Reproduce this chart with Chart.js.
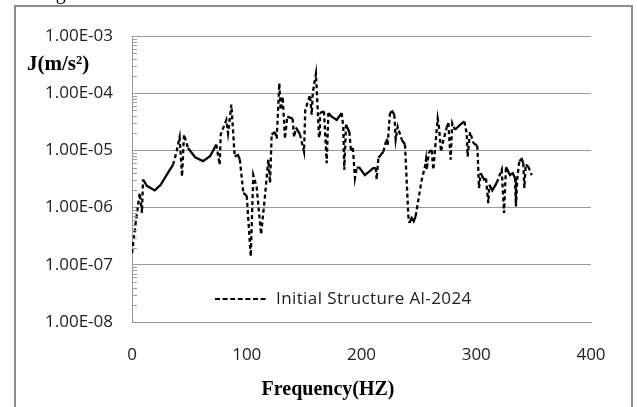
<!DOCTYPE html>
<html>
<head>
<meta charset="utf-8">
<script src="https://cdn.jsdelivr.net/npm/chart.js@4/dist/chart.umd.min.js"></script>
<style>
  html, body { margin: 0; padding: 0; background: #fff; }
  #wrap { width: 637px; height: 407px; }
</style>
</head>
<body>
<div id="wrap"><canvas id="chart1" width="637" height="407"></canvas></div>
<script>
// frequency in Hz
var freq = [
  0, 3, 6.7, 8.7, 9.6, 13, 19.8, 25, 31.4, 35.7, 38.5, 41.5, 43.6, 45.3, 48.8, 55, 61.9, 68, 73.5, 76.4,
  77.3, 82.2, 83.7, 86.6, 89.5, 92.4, 94, 97, 100, 103.5, 105.7, 108.6, 112.5, 115.9, 118.8, 120.3, 121.7, 124.6, 126.1, 128.4,
  129.6, 131.3, 133.3, 135.3, 140, 141.2, 142.9, 146.4, 149.9, 151, 155.1, 156.6, 157.5, 160.3, 163, 163.8, 167.3, 169.7, 171.1, 174,
  178.4, 182.7, 184.1, 185, 186.5, 189.4, 190.8, 192.5, 194.3, 195.8, 198.1, 203, 210.3, 212.5, 213.2, 214.7, 219, 222, 222.8, 224.8,
  226.9, 228.6, 229.8, 231.5, 235, 237.9, 240.8, 241.7, 243.7, 245.5, 247.2, 252.5, 255.3, 256.2, 256.8, 258.8, 261.2, 262.6, 264, 266.4,
  267.5, 269.3, 270.4, 274.2, 275.7, 277.7, 279.1, 281.5, 285.8, 289.6, 291.7, 292.5, 294.6, 297.4, 300.9, 301.8, 302.4, 303.9, 306.8, 308.5,
  310.5, 311.4, 314, 317.8, 322.2, 324.2, 325.9, 329.4, 331.8, 333.8, 334.6, 335.8, 337.5, 339.6, 341, 341.9, 343.1, 345.4, 348.3
];
// acceleration J (m/s^2)
var accel = [
  1.6e-7, 5.0e-7, 1.8e-6, 8.1e-7, 3.1e-6, 2.4e-6, 2.0e-6, 2.5e-6, 4.1e-6, 5.6e-6, 8.9e-6, 1.7e-5, 3.5e-6, 1.9e-5, 1.1e-5, 7.6e-6, 6.5e-6, 7.9e-6, 1.26e-5, 5.6e-6,
  1.9e-5, 3.4e-5, 2.0e-5, 6.3e-5, 7.8e-6, 8.3e-6, 6.9e-6, 1.8e-6, 1.6e-6, 1.4e-7, 3.7e-6, 2.3e-6, 3.4e-7, 1.6e-6, 6.9e-6, 2.7e-6, 1.9e-5, 2.1e-5, 1.6e-5, 1.5e-4,
  5.1e-5, 8.7e-5, 1.6e-5, 3.9e-5, 3.6e-5, 1.7e-5, 2.5e-5, 1.9e-5, 9.5e-6, 5.1e-5, 9.3e-5, 4.2e-5, 1.0e-4, 2.2e-4, 1.7e-5, 4.5e-5, 4.8e-5, 6.0e-6, 4.5e-5, 3.9e-5,
  3.4e-5, 4.5e-5, 2.6e-5, 4.6e-6, 2.8e-5, 2.1e-5, 1.0e-5, 1.1e-5, 3.3e-6, 5.0e-6, 5.0e-6, 3.7e-6, 4.9e-6, 4.9e-6, 3.1e-6, 7.4e-6, 9.5e-6, 1.6e-5, 1.26e-5, 4.5e-5,
  4.8e-5, 4.2e-5, 1.55e-5, 2.6e-5, 1.55e-5, 1.26e-5, 7.1e-7, 5.4e-7, 6.6e-7, 5.8e-7, 7.1e-7, 3.1e-6, 5.2e-6, 6.9e-6, 4.6e-6, 9.5e-6, 1.0e-5, 4.6e-6, 1.0e-5, 3.6e-5,
  2.6e-5, 9.5e-6, 1.26e-5, 2.5e-5, 3.0e-5, 6.9e-6, 3.0e-5, 2.3e-5, 2.8e-5, 3.2e-5, 2.0e-5, 7.8e-6, 2.1e-5, 1.35e-5, 1.2e-5, 4.6e-6, 2.2e-6, 4.0e-6, 3.1e-6, 3.2e-6,
  1.2e-6, 2.5e-6, 2.0e-6, 2.7e-6, 4.6e-6, 8.1e-7, 5.1e-6, 3.7e-6, 4.0e-6, 3.3e-6, 1.05e-6, 3.3e-6, 6.5e-6, 7.1e-6, 6.0e-6, 2.2e-6, 5.6e-6, 5.2e-6, 3.7e-6
];
var yTicks = [1e-8, 1e-7, 1e-6, 1e-5, 1e-4, 1e-3];
var xTicks = [0, 100, 200, 300, 400];
var seriesName = 'Initial Structure Al-2024';
var xTitle = 'Frequency(HZ)';
var yTitle = 'J(m/s\u00B2)';

var gridGray = '#9a9a9a';
var tickFont = { family: '"Open Sans", "Liberation Sans", sans-serif', size: 17 };

function sciLabel(v) {
  var e = Math.round(Math.log10(v));
  return '1.00E' + (e < 0 ? '-' : '+') + String(Math.abs(e)).padStart(2, '0');
}

var points = freq.map(function (f, i) { return { x: f, y: accel[i] }; });

// frame, minor ticks, titles and the in-plot legend
var extras = {
  id: 'extras',
  beforeDraw: function (chart) {
    var c = chart.ctx;
    c.save();
    c.fillStyle = '#fff';
    c.fillRect(0, 0, chart.width, chart.height);
    c.strokeStyle = '#8c8c8c';
    c.lineWidth = 2;
    c.strokeRect(15, 6, 617, 420);
    // caption above the frame, mostly cut off
    c.fillStyle = '#000';
    c.font = '20px "Liberation Serif", serif';
    c.textBaseline = 'alphabetic';
    c.fillText('Fig', 39, -1);
    c.restore();
  },
  afterDraw: function (chart) {
    var c = chart.ctx;
    var ys = chart.scales.y;
    var left = chart.chartArea.left;
    c.save();
    c.strokeStyle = gridGray;
    c.lineWidth = 1;
    for (var d = -8; d < -3; d++) {
      for (var k = 2; k <= 9; k++) {
        var py = Math.round(ys.getPixelForValue(k * Math.pow(10, d))) + 0.5;
        c.beginPath();
        c.moveTo(left, py);
        c.lineTo(left + 5, py);
        c.stroke();
      }
    }
    c.fillStyle = '#000';
    c.textBaseline = 'middle';
    c.textAlign = 'left';
    c.font = 'bold 21px "Liberation Serif", serif';
    c.fillText(yTitle, 27, 65);
    c.textAlign = 'center';
    c.font = 'bold 20px "Liberation Serif", serif';
    c.fillText(xTitle, 328, 390);
    // legend
    c.strokeStyle = '#000';
    c.lineWidth = 2;
    c.setLineDash([5, 2.6]);
    c.beginPath();
    c.moveTo(215, 299);
    c.lineTo(268, 299);
    c.stroke();
    c.setLineDash([]);
    c.fillStyle = '#222';
    c.font = '17px "Open Sans", "Liberation Sans", sans-serif';
    c.textAlign = 'left';
    c.letterSpacing = '0.4px';
    c.fillText(seriesName, 276, 299);
    c.restore();
  }
};

var chart1 = new Chart(document.getElementById('chart1'), {
  type: 'line',
  data: {
    datasets: [{
      label: seriesName,
      data: points,
      borderColor: '#000',
      borderWidth: 2.3,
      pointRadius: 0,
      tension: 0,
      fill: false,
      segment: {
        // steep jumps look dashed, slow parts look solid
        borderDash: function (ctx) {
          var dx = Math.abs(ctx.p1.x - ctx.p0.x);
          var dy = Math.abs(ctx.p1.y - ctx.p0.y);
          return dy > 2.2 * dx && dy > 6 ? [4, 3] : [];
        }
      }
    }]
  },
  options: {
    responsive: false,
    animation: false,
    layout: { padding: { top: 36, right: 46, left: 0, bottom: 0 } },
    plugins: {
      legend: { display: false },
      tooltip: { enabled: false }
    },
    scales: {
      x: {
        type: 'linear',
        min: 0,
        max: 400,
        afterBuildTicks: function (scale) {
          scale.ticks = xTicks.map(function (v) { return { value: v }; });
        },
        afterFit: function (scale) { scale.height = 85; },
        grid: { display: false, drawTicks: false },
        border: { display: true, color: gridGray },
        ticks: { font: tickFont, color: '#222', padding: 23, maxRotation: 0 }
      },
      y: {
        type: 'logarithmic',
        min: 1e-8,
        max: 1e-3,
        afterBuildTicks: function (scale) {
          scale.ticks = yTicks.map(function (v) { return { value: v }; });
        },
        afterFit: function (scale) { scale.width = 132; },
        grid: { color: gridGray, drawTicks: false },
        border: { display: true, color: gridGray },
        ticks: {
          font: tickFont,
          color: '#222',
          padding: 19,
          callback: function (v) { return sciLabel(v); }
        }
      }
    }
  },
  plugins: [extras]
});
</script>
</body>
</html>
